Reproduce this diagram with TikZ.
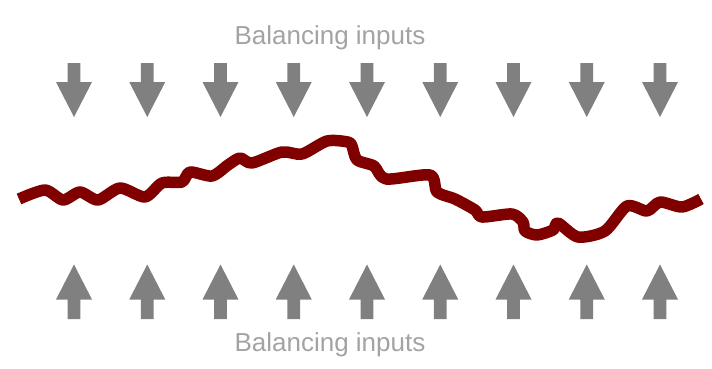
\documentclass[tikz,border=0pt]{standalone}
\usepackage{fontspec}
\setmainfont{Liberation Sans}
\definecolor{arrgray}{RGB}{128,128,128}
\definecolor{txtgray}{RGB}{163,163,163}
\definecolor{curvered}{RGB}{128,0,0}
\begin{document}
\begin{tikzpicture}[x=1pt,y=-1pt,
  inputlabel/.style={font=\fontsize{26}{31}\selectfont, text=txtgray, anchor=base, inner sep=0pt},
  pushfill/.style={fill=arrgray, draw=none},
  wobble/.style={draw=curvered, line width=11.5pt, line join=round, line cap=butt}]
\useasboundingbox (0,0) rectangle (712,368);
\node[inputlabel] (toplabel) at (330,44) {Balancing inputs};
\node[inputlabel] (botlabel) at (330,351) {Balancing inputs};
\foreach \i in {0,...,8}{
  \pgfmathsetmacro{\cx}{74+73.25*\i}
  % down arrows
  \fill[pushfill] (\cx-6.3,63) -- (\cx+6.3,63) -- (\cx+6.3,82) -- (\cx+18,82) -- (\cx,117) -- (\cx-18,82) -- (\cx-6.3,82) -- cycle;
  % up arrows
  \fill[pushfill] (\cx-6.3,319) -- (\cx+6.3,319) -- (\cx+6.3,299.5) -- (\cx+18,299.5) -- (\cx,264.5) -- (\cx-18,299.5) -- (\cx-6.3,299.5) -- cycle;
}
\draw[wobble] plot[smooth, tension=0.45] coordinates {
(19,199) (45,190) (63,200) (80,192) (98,200) (120,188) (145,197) (162,183) (182,182)
(190,172) (212,176) (228,165) (240,158) (252,163) (282,152) (302,154) (327,141) (348,142)
(352,146) (357,160) (374,166) (386,179) (430,175) (437,192) (455,199) (475,210) (482,217)
(512,214) (523,222) (525,231) (537,235) (553,230) (558,223) (578,237) (605,231) (627,206)
(647,211) (660,202) (682,207) (701,199)};
\end{tikzpicture}
\end{document}
